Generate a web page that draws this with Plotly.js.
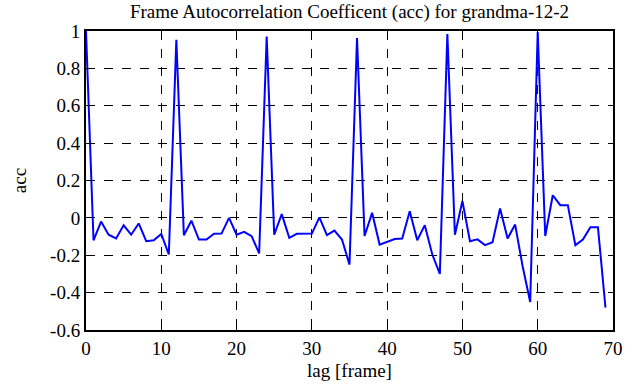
<!DOCTYPE html>
<html>
<head>
<meta charset="utf-8">
<script src="https://cdn.plot.ly/plotly-3.0.1.min.js"></script>
<style>html,body{margin:0;padding:0;background:#fff;}#chart{width:635px;height:387px;}</style>
</head>
<body>
<div id="chart"></div>
<script>
const lags = Array.from({length: 70}, (_, i) => i);
const acc = [
  1.00, -0.12, -0.02, -0.09, -0.11, -0.04, -0.09, -0.03, -0.125, -0.12,
  -0.086, -0.196, 0.953, -0.093, -0.015, -0.116, -0.116, -0.085, -0.084, 0.00,
  -0.09, -0.075, -0.098, -0.19, 0.971, -0.09, 0.02, -0.107, -0.085, -0.084,
  -0.084, 0.003, -0.092, -0.068, -0.116, -0.25, 0.962, -0.097, 0.027, -0.143,
  -0.13, -0.113, -0.11, 0.036, -0.12, -0.039, -0.196, -0.30, 0.984, -0.09,
  0.09, -0.125, -0.115, -0.146, -0.13, 0.05, -0.11, -0.036, -0.26, -0.45,
  0.995, -0.097, 0.121, 0.068, 0.068, -0.146, -0.116, -0.05, -0.05, -0.48
];
const yTickVals = [1, 0.8, 0.6, 0.4, 0.2, 0, -0.2, -0.4, -0.6];
const yTickText = ['1', '0.8', '0.6', '0.4', '0.2', '0', '-0.2', '-0.4', '-0.6'];
const xTickVals = [0, 10, 20, 30, 40, 50, 60, 70];

const fam = 'Liberation Serif';
const font = {family: fam, size: 19, color: '#000'};
const tickfont = {family: fam, size: 19, color: '#000'};

Plotly.newPlot('chart', [{
  x: lags, y: acc, type: 'scatter', mode: 'lines',
  line: {color: '#0000ff', width: 2}
}], {
  width: 635, height: 387,
  margin: {l: 86, r: 22, t: 31, b: 57},
  paper_bgcolor: '#fff', plot_bgcolor: '#fff',
  font: font,
  showlegend: false,
  title: {text: 'Frame Autocorrelation Coefficent (acc) for grandma-12-2', font: font, x: 0.5, xanchor: 'center', xref: 'paper', y: 0.97, yanchor: 'middle'},
  xaxis: {
    range: [0, 70], tickmode: 'array', tickvals: xTickVals, ticks: 'inside', ticklen: 5, tickcolor: '#000',
    tickfont: tickfont,
    showline: true, linecolor: '#000', linewidth: 2, mirror: 'ticks',
    showgrid: true, gridcolor: '#000', griddash: 'dash', gridwidth: 1, zeroline: false,
    title: {text: 'lag [frame]', font: font, standoff: 6}
  },
  yaxis: {
    range: [-0.6, 1], tickmode: 'array', tickvals: yTickVals, ticktext: yTickText, ticks: 'inside', ticklen: 5, tickcolor: '#000',
    tickfont: tickfont,
    showline: true, linecolor: '#000', linewidth: 2, mirror: 'ticks',
    showgrid: true, gridcolor: '#000', griddash: 'dash', gridwidth: 1, zeroline: false,
    title: {text: 'acc', font: font, standoff: 18}
  }
}, {displayModeBar: false, staticPlot: true});
</script>
</body>
</html>
